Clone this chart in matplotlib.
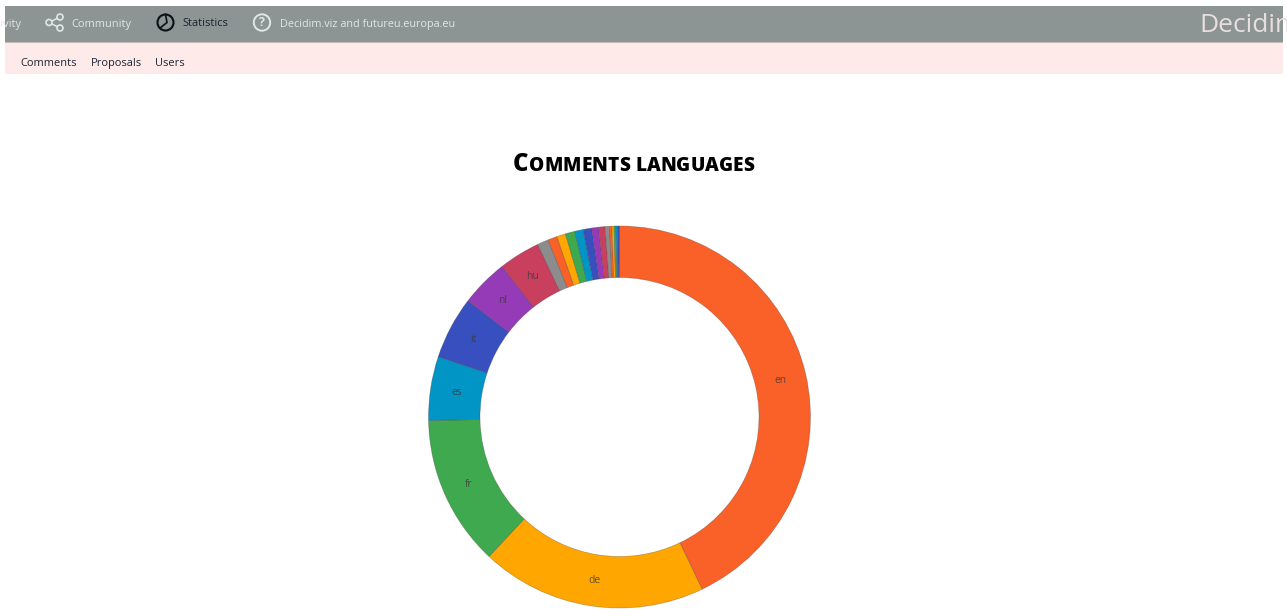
import matplotlib
matplotlib.use("Agg")
import matplotlib.pyplot as plt
from matplotlib.patches import Circle, Rectangle
import numpy as np

# Share of comments per language, in percent
languages = ["en", "de", "fr", "es", "it", "nl", "hu"] + [""] * 14
shares = [42.9, 19.1, 12.75, 5.4, 5.3, 4.05, 3.5, 0.95, 0.78, 0.75, 0.8,
          0.72, 0.72, 0.58, 0.54, 0.37, 0.2, 0.18, 0.16, 0.15, 0.15]
palette = ["#f96128", "#ffa600", "#3fa950", "#0095c4", "#374fbf", "#963bb8",
           "#c9405f", "#8c8c8c"]
nav_items = ["Community", "Statistics", "Decidim.viz and futureu.europa.eu"]
sub_items = ["Comments", "Proposals", "Users"]
title_words = "Comments languages"

W, H = 1287, 613
plt.rcParams["font.family"] = ["Open Sans", "DejaVu Sans"]
fig = plt.figure(figsize=(W / 100, H / 100), dpi=100, facecolor="white")

# Page furniture lives on an axes measured in pixels
page = fig.add_axes([0, 0, 1, 1])
page.set_xlim(0, W)
page.set_ylim(H, 0)
page.axis("off")

GREY = "#8c9494"
LIGHT = "#e2e6e6"
DARK = "#1b2430"
NAV_SIZE = 7.9
NAV_BASE = 26.5
bar = Rectangle((5, 6), 1278, 36, fc=GREY, ec="none")
page.add_patch(bar)
page.add_patch(Rectangle((5, 42), 1278, 1, fc="#c9b9b9", ec="none"))
page.add_patch(Rectangle((5, 43), 1278, 31, fc="#feebe9", ec="none"))

t = page.text(21, NAV_BASE, "Activity", color=LIGHT, fontsize=NAV_SIZE, ha="right", va="baseline")
t.set_clip_path(bar)
page.text(71.5, NAV_BASE, nav_items[0], color=LIGHT, fontsize=NAV_SIZE, va="baseline")
page.text(182.5, NAV_BASE, nav_items[1], color=DARK, fontsize=NAV_SIZE, va="baseline", weight="medium")
page.text(279.5, NAV_BASE, nav_items[2], color=LIGHT, fontsize=NAV_SIZE - 0.1, va="baseline")
t = page.text(1199.5, 32.5, "Decidim", color="#eadfdf", fontsize=19, va="baseline")
t.set_clip_path(bar)

for label, x in zip(sub_items, [20.5, 91, 155.5]):
    page.text(x, 66, label, color=DARK, fontsize=NAV_SIZE, va="baseline", weight="medium")

# Share icon
nodes = [(49, 22.5), (60, 17), (60, 28)]
for a in nodes[1:]:
    page.plot([nodes[0][0], a[0]], [nodes[0][1], a[1]], color=LIGHT, lw=1.1)
for n in nodes:
    page.add_patch(Circle(n, 3, fc=GREY, ec=LIGHT, lw=1.2, zorder=3))

# Clock-like pie icon
page.add_patch(Circle((165.5, 22.5), 8, fc="none", ec="#0c1016", lw=1.5))
page.plot([165.5, 167, 160], [14.5, 22.5, 28], color="#0c1016", lw=1.2)

# Help icon
page.add_patch(Circle((262, 22.5), 8.2, fc="none", ec=LIGHT, lw=1.4))
page.text(262, 22.5, "?", color=LIGHT, fontsize=9, ha="center", va="center", weight="bold")

# Small-caps heading assembled from two type sizes
renderer = fig.canvas.get_renderer()
x = 512.5
for word_index, word in enumerate(title_words.split()):
    for i, ch in enumerate(word):
        big = word_index == 0 and i == 0
        piece = page.text(x, 171, ch.upper(), color="black", weight=800,
                          fontsize=17.1 if big else 13.7, va="baseline", ha="left")
        x += piece.get_window_extent(renderer).width + (0.8 if big else 0.1)
    x += 5.2

# Donut
CX, CY, R = 619.5, 417, 191
pad = 1.02
size = 2 * R * pad
ax = fig.add_axes([(CX - size / 2) / W, 1 - (CY + size / 2) / H, size / W, size / H])
colors = [palette[i % len(palette)] for i in range(len(shares))]
wedges, _ = ax.pie(shares, colors=colors, startangle=90, counterclock=False, radius=1,
                   wedgeprops=dict(width=51.5 / R, edgecolor=(0.25, 0.2, 0.2, 0.35), linewidth=0.5))
ax.set_xlim(-pad, pad)
ax.set_ylim(-pad, pad)
ax.patch.set_alpha(0)

for wedge, name in zip(wedges, languages):
    if name:
        mid = np.deg2rad((wedge.theta1 + wedge.theta2) / 2)
        ax.text(0.864 * np.cos(mid), 0.864 * np.sin(mid), name, fontsize=7.4,
                color="#3a3a3a", alpha=0.8, ha="center", va="center")

fig.savefig("out.png", dpi=100, facecolor="white")
